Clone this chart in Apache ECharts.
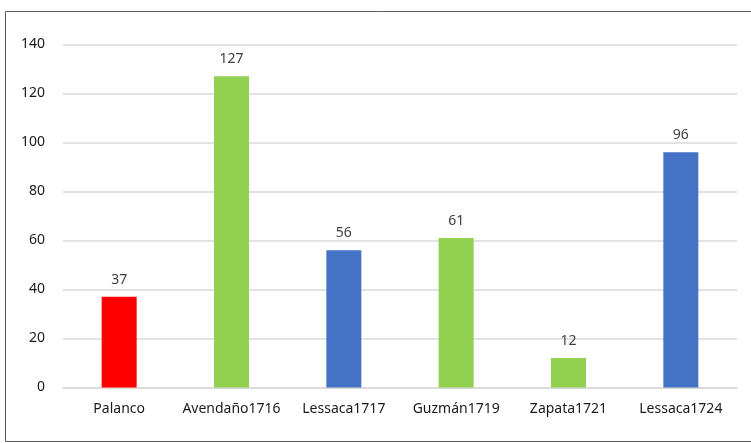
<!DOCTYPE html>
<html><head><meta charset="utf-8">
<script src="https://cdn.jsdelivr.net/npm/echarts@6/dist/echarts.min.js"></script>
<style>html,body{margin:0;padding:0;background:#fff}#c{width:751px;height:443px}</style>
</head><body><div id="c"></div>
<script>
const categories = ["Palanco","Avendaño1716","Lessaca1717","Guzmán1719","Zapata1721","Lessaca1724"];
const values = [37,127,56,61,12,96];
const barColors = ["#ff0000","#92d050","#4472c4","#92d050","#92d050","#4472c4"];
const yTicks = {min:0,max:140,interval:20};

const chart = echarts.init(document.getElementById('c'));
chart.setOption({
  animation:false,
  graphic:[{type:'rect',shape:{x:5.5,y:11.5,width:760,height:430},style:{fill:'none',stroke:'#595959',lineWidth:1},silent:true,z:-1}],
  grid:{left:63,right:14,top:44.5,bottom:55.5},
  xAxis:{type:'category',data:categories,
    axisLine:{show:true,lineStyle:{color:'#d9d9d9',width:1.5}},
    axisTick:{show:false},
    axisLabel:{interval:0,color:'#1a1a1a',fontSize:14,fontFamily:'Noto Sans',margin:15}},
  yAxis:{type:'value',min:yTicks.min,max:yTicks.max,interval:yTicks.interval,
    axisLine:{show:false},axisTick:{show:false},
    splitLine:{lineStyle:{color:'#d9d9d9',width:1.5}},
    axisLabel:{color:'#1a1a1a',fontSize:14,fontFamily:'Noto Sans',margin:18}},
  series:[{type:'bar',barWidth:35,
    data:values.map((v,i)=>({value:v,itemStyle:{color:barColors[i]}})),
    label:{show:true,position:'top',distance:10,color:'#404040',fontSize:14,fontFamily:'Noto Sans'}}]
});
</script></body></html>
